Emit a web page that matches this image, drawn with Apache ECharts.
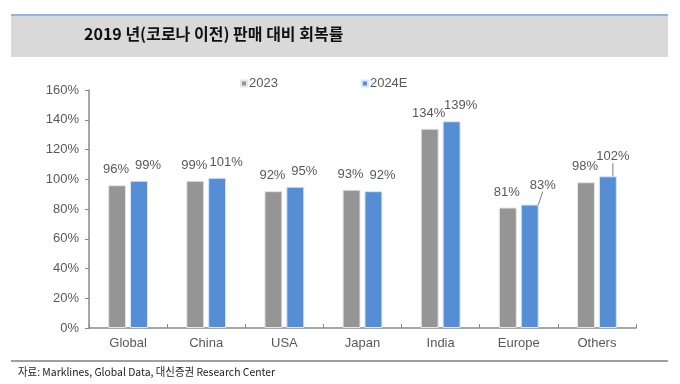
<!DOCTYPE html>
<html><head><meta charset="utf-8">
<script src="https://cdn.jsdelivr.net/npm/echarts@6/dist/echarts.min.js"></script>
<style>html,body{margin:0;padding:0;background:#fff}#c{width:680px;height:384px}</style>
</head><body><div id="c"></div>
<script>
const categories = ['Global', 'China', 'USA', 'Japan', 'India', 'Europe', 'Others'];
const seriesNames = ['2023', '2024E'];
const values2023 = [96, 99, 92, 93, 134, 81, 98];
const values2024E = [99, 101, 95, 92, 139, 83, 102];
const yTicks = [0, 20, 40, 60, 80, 100, 120, 140, 160];
const titleText = '2019 년(코로나 이전) 판매 대비 회복률';
const sourceText = '자료: Marklines, Global Data, 대신증권 Research Center';

const chart = echarts.init(document.getElementById('c'), null, {renderer: 'canvas'});
const lblColor = '#595959';
const font = 'Liberation Sans, Arial, sans-serif';
const leaderIdx = [5, 6];

const data2024 = values2024E.map((v, i) => leaderIdx.includes(i)
  ? {value: v, labelLine: {show: true, lineStyle: {color: '#7f7f7f', width: 1}}}
  : v);

function labelLayout2024(params) {
  const i = params.dataIndex;
  if (i === 5) return {dx: 13, dy: -4};
  if (i === 6) return {dx: 5, dy: -4};
  return {dx: 9};
}

chart.setOption({
  animation: false,
  grid: {left: 89, right: 44, top: 90, bottom: 56},
  legend: {
    left: 240, top: 77, padding: 0, itemWidth: 6, itemHeight: 6, itemGap: 83, icon: 'rect',
    textStyle: {color: lblColor, fontSize: 13, fontFamily: font, padding: [0, 0, 0, -3]},
    data: seriesNames
  },
  xAxis: {
    type: 'category', data: categories,
    axisLine: {lineStyle: {color: '#898989', width: 1.5}},
    axisTick: {show: true, length: 4, inside: true, lineStyle: {color: '#898989'}},
    axisLabel: {color: lblColor, fontSize: 13, fontFamily: font, margin: 9}
  },
  yAxis: {
    type: 'value', min: yTicks[0], max: yTicks[yTicks.length - 1], interval: 20,
    axisLine: {show: true, lineStyle: {color: '#898989', width: 1.5}},
    axisTick: {show: true, length: 4, lineStyle: {color: '#898989'}},
    splitLine: {show: false},
    axisLabel: {color: lblColor, fontSize: 13, fontFamily: font, margin: 10, formatter: '{value}%'}
  },
  series: [
    {
      name: seriesNames[0], type: 'bar', data: values2023,
      barGap: '22%', barCategoryGap: '49%',
      itemStyle: {color: '#959595', borderColor: '#e6e6e6', borderWidth: 1},
      label: {show: true, position: 'top', distance: 9, offset: [-1, 0], formatter: '{c}%', color: lblColor, fontSize: 13, fontFamily: font}
    },
    {
      name: seriesNames[1], type: 'bar', data: data2024,
      itemStyle: {color: '#558ed5', borderColor: '#dbe6f5', borderWidth: 1},
      label: {show: true, position: 'top', distance: 9, formatter: '{c}%', color: lblColor, fontSize: 13, fontFamily: font},
      labelLine: {show: false},
      labelLayout: labelLayout2024
    }
  ],
  graphic: [
    {type: 'rect', shape: {x: 11, y: 16, width: 657, height: 41}, style: {fill: '#d9d9d9'}, silent: true, z: -1},
    {type: 'line', shape: {x1: 11, y1: 15, x2: 668, y2: 15}, style: {stroke: '#6f9bd6', lineWidth: 1.5}},
    {type: 'text', left: 84, top: 26, style: {text: titleText, font: 'bold 16px "Noto Sans CJK KR", sans-serif', fill: '#111'}},
    {type: 'line', shape: {x1: 11, y1: 361, x2: 668, y2: 361}, style: {stroke: '#7f7f7f', lineWidth: 1.5}},
    {type: 'text', left: 18, top: 366, scaleX: 0.945, style: {text: sourceText, font: '11px "Noto Sans CJK KR", sans-serif', fill: '#222'}}
  ]
});
</script></body></html>
